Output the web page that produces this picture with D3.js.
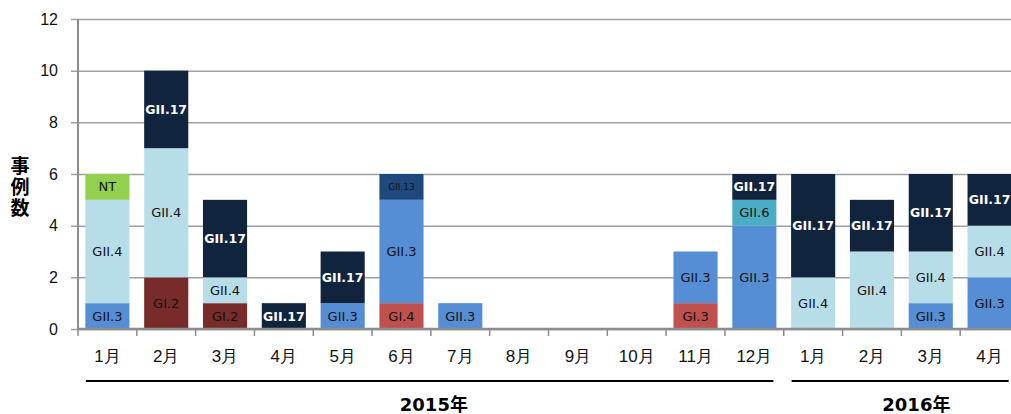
<!DOCTYPE html>
<html>
<head>
<meta charset="utf-8">
<script src="https://cdn.jsdelivr.net/npm/d3@7"></script>
<style>
  body { margin: 0; background: #fff; }
  svg { display: block; font-family: "DejaVu Sans", "Noto Sans CJK JP", sans-serif; }
</style>
</head>
<body>
<svg id="chart" width="1011" height="414"></svg>
<script>
// categories (year-month keys) and their tick labels
var months = ["2015-1", "2015-2", "2015-3", "2015-4", "2015-5", "2015-6", "2015-7", "2015-8",
  "2015-9", "2015-10", "2015-11", "2015-12", "2016-1", "2016-2", "2016-3", "2016-4"];
var monthLabels = ["1月", "2月", "3月", "4月", "5月", "6月", "7月", "8月",
  "9月", "10月", "11月", "12月", "1月", "2月", "3月", "4月"];
var genotypes = ["GI.2", "GI.3", "GI.4", "GII.3", "GII.4", "GII.6", "GII.13", "GII.17", "NT"];

// counts per genotype, one value per month
var gi2 = [0, 2, 1, 0, 0, 0, 0, 0, 0, 0, 0, 0, 0, 0, 0, 0];
var gi3 = [0, 0, 0, 0, 0, 0, 0, 0, 0, 0, 1, 0, 0, 0, 0, 0];
var gi4 = [0, 0, 0, 0, 0, 1, 0, 0, 0, 0, 0, 0, 0, 0, 0, 0];
var gii3 = [1, 0, 0, 0, 1, 4, 1, 0, 0, 0, 2, 4, 0, 0, 1, 2];
var gii4 = [4, 5, 1, 0, 0, 0, 0, 0, 0, 0, 0, 0, 2, 3, 2, 2];
var gii6 = [0, 0, 0, 0, 0, 0, 0, 0, 0, 0, 0, 1, 0, 0, 0, 0];
var gii13 = [0, 0, 0, 0, 0, 1, 0, 0, 0, 0, 0, 0, 0, 0, 0, 0];
var gii17 = [0, 3, 3, 1, 2, 0, 0, 0, 0, 0, 0, 1, 4, 2, 3, 2];
var nt = [1, 0, 0, 0, 0, 0, 0, 0, 0, 0, 0, 0, 0, 0, 0, 0];

var yTicks = [0, 2, 4, 6, 8, 10, 12];
var years = [{ label: "2015年", from: "2015-1", to: "2015-12" }, { label: "2016年", from: "2016-1", to: "2016-4" }];

var seriesValues = [gi2, gi3, gi4, gii3, gii4, gii6, gii13, gii17, nt];
var colors = {
  "GI.2": "#772c2a", "GI.3": "#c0504d", "GI.4": "#c0504d", "GII.3": "#558ed5",
  "GII.4": "#b7dee8", "GII.6": "#4bacc6", "GII.13": "#1f497d", "GII.17": "#10243e", "NT": "#92d050"
};

var table = months.map(function(m, i) {
  var row = { month: m };
  genotypes.forEach(function(g, j) { row[g] = seriesValues[j][i]; });
  return row;
});

var svg = d3.select("#chart");
var mLeft = 78, mRight = 1019, mTop = 19, mBottom = 329;

var x = d3.scaleBand().domain(months).range([mLeft, mRight]).paddingInner(0.25).paddingOuter(0.125);
var y = d3.scaleLinear().domain([0, 12]).range([mBottom, mTop]);

// gridlines + y axis
var yAxis = svg.append("g")
  .attr("transform", "translate(" + mLeft + ",0)")
  .call(d3.axisLeft(y).tickValues(yTicks).tickSize(7).tickPadding(13));
yAxis.select(".domain").remove();
yAxis.selectAll(".tick line").attr("x2", mRight - mLeft).attr("x1", -7)
  .attr("stroke", "#a0a0a0").attr("stroke-width", 1.5);
yAxis.selectAll(".tick text").attr("font-size", 16).attr("fill", "#111");

var stack = d3.stack().keys(genotypes);
var layers = stack(table);

var layer = svg.append("g").selectAll("g")
  .data(layers).enter().append("g")
  .attr("fill", function(d) { return colors[d.key]; });

layer.selectAll("rect")
  .data(function(d) { return d.filter(function(p) { return p[1] > p[0]; }); })
  .enter().append("rect")
  .attr("x", function(d) { return x(d.data.month); })
  .attr("width", x.bandwidth())
  .attr("y", function(d) { return y(d[1]); })
  .attr("height", function(d) { return y(d[0]) - y(d[1]); });

// segment labels
layers.forEach(function(l) {
  var g = l.key;
  var big = g === "GII.17";
  svg.append("g").selectAll("text")
    .data(l.filter(function(p) { return p[1] > p[0]; }))
    .enter().append("text")
    .attr("x", function(d) { return x(d.data.month) + x.bandwidth() / 2; })
    .attr("y", function(d) { return (y(d[0]) + y(d[1])) / 2 + 1; })
    .attr("text-anchor", "middle")
    .attr("dominant-baseline", "middle")
    .attr("font-size", g === "GII.13" ? 9 : (big ? 12.5 : 13))
    .attr("font-weight", big ? "bold" : "normal")
    .attr("fill", big ? "#fff" : "#111")
    .text(g);
});

// y axis line
svg.append("line")
  .attr("x1", mLeft).attr("x2", mLeft).attr("y1", mTop).attr("y2", mBottom + 1)
  .attr("stroke", "#8c8c8c").attr("stroke-width", 2);

// x axis
var xAxis = svg.append("g")
  .attr("transform", "translate(0," + mBottom + ")")
  .call(d3.axisBottom(x).tickSize(0).tickPadding(21)
    .tickFormat(function(d, i) { return monthLabels[i]; }));
xAxis.select(".domain").attr("stroke", "#8c8c8c").attr("stroke-width", 2.5)
  .attr("d", "M" + mLeft + ",0H" + mRight);
xAxis.selectAll(".tick text").attr("font-size", 17).attr("fill", "#111");

var step = x.step();
xAxis.selectAll(".bound")
  .data(months).enter().append("line")
  .attr("x1", function(d) { return x(d) - step * 0.125; })
  .attr("x2", function(d) { return x(d) - step * 0.125; })
  .attr("y1", 0).attr("y2", 7)
  .attr("stroke", "#8c8c8c").attr("stroke-width", 1.5);

// year brackets
years.forEach(function(yr, i) {
  var x0 = x(yr.from) + 0.5, x1 = x(yr.to) + x.bandwidth() - 3;
  svg.append("line").attr("x1", x0).attr("x2", x1).attr("y1", 381).attr("y2", 381)
    .attr("stroke", "#000").attr("stroke-width", 2);
  svg.append("text")
    .attr("x", (x(yr.from) + x(yr.to) + x.bandwidth()) / 2 + (i === 0 ? 3 : 15))
    .attr("y", 411)
    .attr("text-anchor", "middle")
    .attr("font-size", 18).attr("font-weight", "bold").attr("fill", "#000")
    .text(yr.label);
});

// y axis title, stacked vertically
svg.append("text")
  .attr("x", 20).attr("text-anchor", "middle")
  .attr("font-family", "'Noto Sans CJK JP', sans-serif")
  .attr("font-size", 19).attr("font-weight", "bold")
  .selectAll("tspan").data(["事", "例", "数"]).enter().append("tspan")
  .attr("x", 20).attr("y", function(d, i) { return 173 + i * 21; })
  .text(function(d) { return d; });
</script>
</body>
</html>
